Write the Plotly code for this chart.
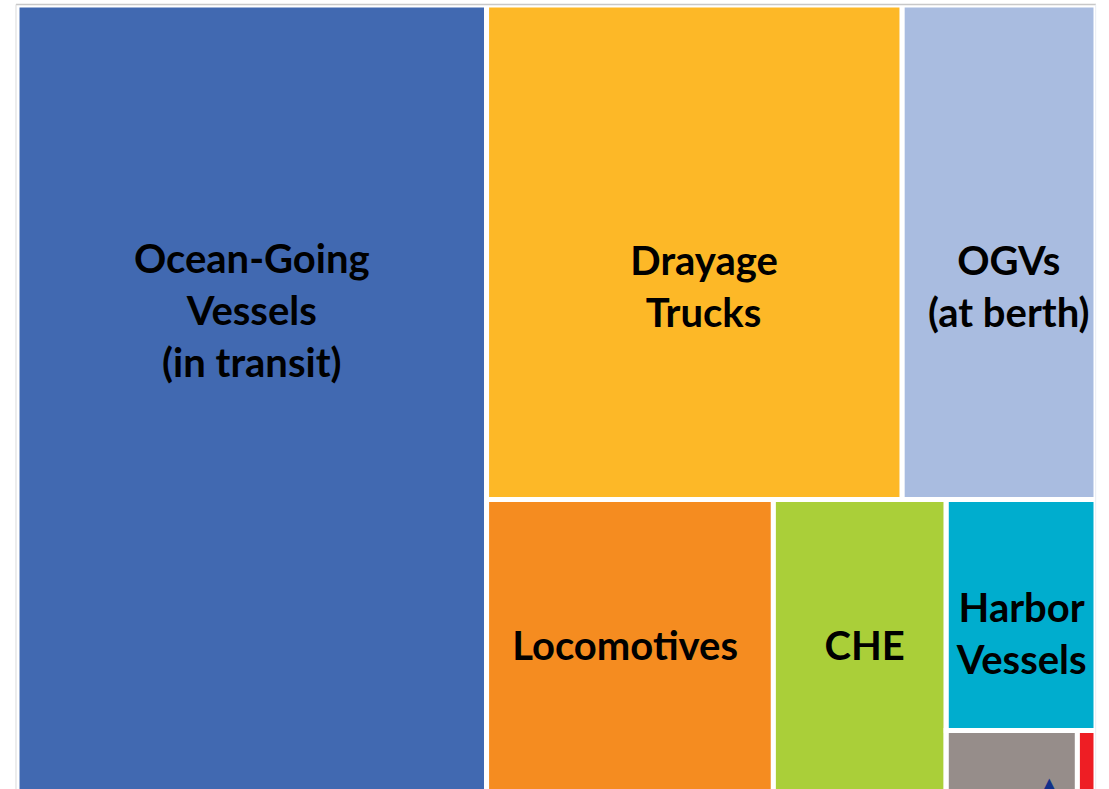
import plotly.graph_objects as go

# ---- data (share of total, %) ----
categories = ["Ocean-Going Vessels (in transit)", "Drayage Trucks", "OGVs (at berth)",
              "Locomotives", "CHE", "Harbor Vessels", "Other", "Other 2"]
shares = [43.52, 22.75, 10.61, 10.88, 6.56, 3.83, 1.62, 0.23]

NB = "\u00a0"
def blank(px):
    return "<span style='font-size:%dpx'>%s</span>" % (px, NB)

labels_shown = [
    "Ocean-Going<br>Vessels<br>(in transit)<br>" + NB + "<br>" + NB + "<br>" + NB + "<br>" + blank(134),
    blank(56) + "<br>" + NB * 2 + "Drayage<br>" + NB * 2 + "Trucks",
    blank(56) + "<br>" + NB * 2 + "OGVs<br>" + NB * 2 + "(at berth)",
    "Locomotives" + NB + "<br>" + NB,
    NB + "CHE<br>" + NB,
    blank(23) + "<br>Harbor<br>Vessels",
    "<span style='font-family:DejaVu Sans;font-size:24px;color:#12308A'>" + NB * 9 + "\u25B2</span>",
    "",
]
colors = ["#4169B1", "#FDB827", "#A9BCE0", "#F58C20", "#AACF39", "#00ADCE", "#968D8A", "#EE1E24"]

# grouping used to reproduce the tile arrangement
group_ids = ["rest", "row1", "row2", "col", "bottom"]
group_parents = ["", "rest", "rest", "row2", "col"]
leaf_parents = ["", "row1", "row1", "row2", "row2", "col", "bottom", "bottom"]

ids = categories + group_ids
parents = leaf_parents + group_parents
values = shares + [0] * len(group_ids)
texts = labels_shown + [""] * len(group_ids)
marker_colors = colors + ["#FFFFFF"] * len(group_ids)

order = [0, 8, 9, 1, 2, 10, 3, 4, 11, 5, 12, 6, 7]
ids = [ids[i] for i in order]
parents = [parents[i] for i in order]
values = [values[i] for i in order]
texts = [texts[i] for i in order]
marker_colors = [marker_colors[i] for i in order]

fig = go.Figure(go.Treemap(
    ids=ids,
    labels=ids,
    parents=parents,
    values=values,
    branchvalues="remainder",
    text=texts,
    textinfo="text",
    sort=False,
    tiling=dict(packing="slice-dice", pad=0),
    marker=dict(colors=marker_colors, line=dict(color="#FFFFFF", width=5),
                pad=dict(t=0, l=0, r=0, b=0)),
    pathbar=dict(visible=False),
    textposition="middle center",
    textfont=dict(family="Lato", size=40, color="#000000", weight=700),
    hoverinfo="skip",
))

fig.update_layout(
    width=1109, height=843,
    margin=dict(l=16.5, r=12.5, t=4.5, b=0.5),
    paper_bgcolor="#FFFFFF",
    showlegend=False,
    shapes=[
        dict(type="line", xref="paper", yref="paper", x0=-0.00093, x1=1.0, y0=1.0006, y1=1.0006,
             line=dict(color="#C8C8C8", width=1.5)),
        dict(type="line", xref="paper", yref="paper", x0=-0.00093, x1=-0.00093, y0=-0.01, y1=1.0006,
             line=dict(color="#DADADA", width=1)),
        dict(type="line", xref="paper", yref="paper", x0=0.9997, x1=0.9997, y0=-0.01, y1=1.0006,
             line=dict(color="#E8ECF3", width=1)),
    ],
)

fig.write_html("out.html", config={"displayModeBar": False},
               post_script="document.body.style.margin='0px';")
